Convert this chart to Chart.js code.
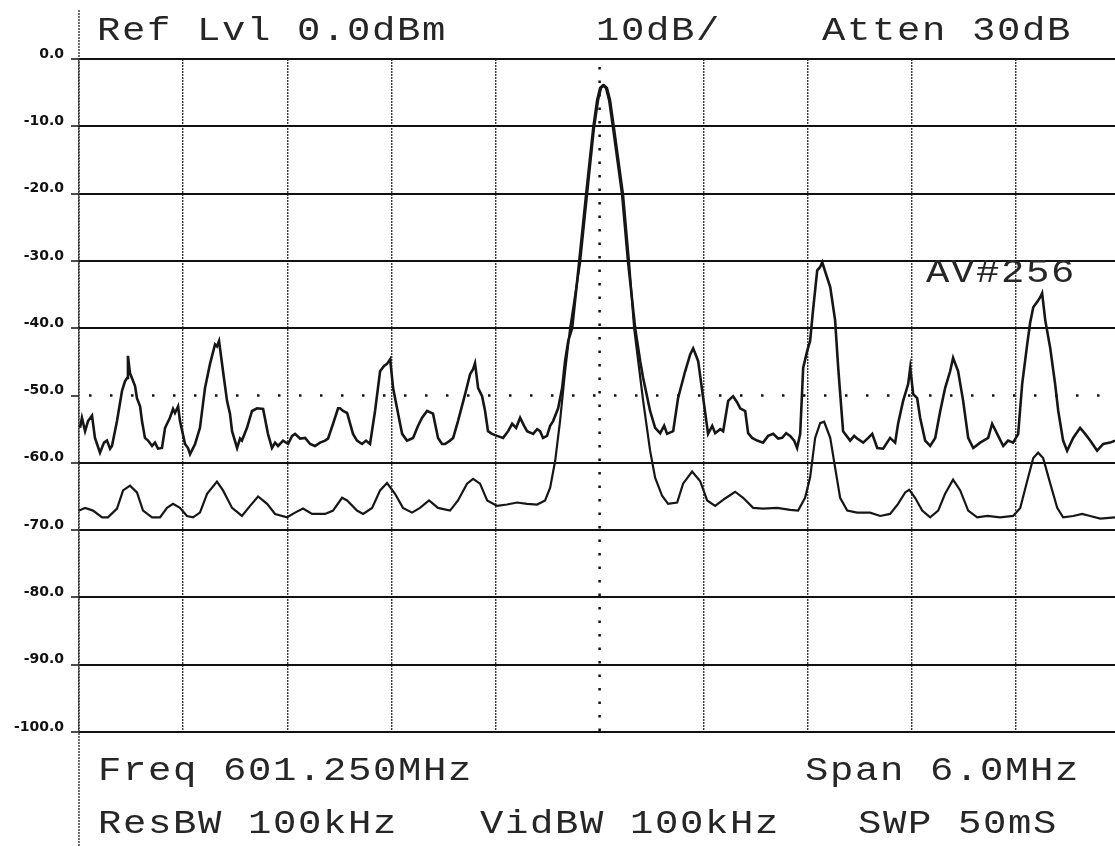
<!DOCTYPE html>
<html>
<head>
<meta charset="utf-8">
<style>
  html, body { margin: 0; background: #fff; }
</style>
<script src="https://cdn.jsdelivr.net/npm/chart.js@4.4.0/dist/chart.umd.min.js"></script>
</head>
<body>
<canvas id="plot" width="1115" height="846"></canvas>
<script>
// sweep settings
var startFreq = 598.25;   // MHz, left edge of the screen
var centerFreq = 601.25;  // MHz, marker line
var divFreq = 0.6;        // MHz per division
var visibleEnd = 604.22;  // MHz, last frequency on the printout
var displayLine = -50;    // dBm

// peak-hold trace (upper, noisy)
var peakFreq = [
  598.256, 598.267, 598.285, 598.302, 598.325, 598.342, 598.371, 598.394, 598.411, 598.429,
  598.440, 598.469, 598.498, 598.515, 598.527, 598.532, 598.544, 598.555, 598.573, 598.584,
  598.602, 598.613, 598.630, 598.648, 598.671, 598.688, 598.705, 598.728, 598.746, 598.774,
  598.792, 598.803, 598.821, 598.832, 598.861, 598.878, 598.890, 598.919, 598.947, 598.976,
  599.005, 599.034, 599.045, 599.057, 599.080, 599.103, 599.120, 599.132, 599.161, 599.178,
  599.189, 599.218, 599.247, 599.276, 599.311, 599.339, 599.362, 599.380, 599.397, 599.426,
  599.455, 599.478, 599.495, 599.524, 599.553, 599.582, 599.610, 599.639, 599.668, 599.685,
  599.714, 599.743, 599.754, 599.772, 599.795, 599.829, 599.852, 599.881, 599.904, 599.927,
  599.956, 599.985, 600.008, 600.025, 600.043, 600.060, 600.089, 600.112, 600.140, 600.175,
  600.204, 600.227, 600.256, 600.290, 600.319, 600.342, 600.359, 600.388, 600.406, 600.434,
  600.475, 600.504, 600.521, 600.532, 600.550, 600.573, 600.590, 600.607, 600.630, 600.659,
  600.694, 600.723, 600.746, 600.769, 600.792, 600.815, 600.832, 600.867, 600.890, 600.907,
  600.924, 600.947, 600.965, 600.982, 601.011, 601.034, 601.051, 601.069, 601.092, 601.132,
  601.172, 601.213, 601.236, 601.253, 601.270, 601.287, 601.305, 601.328, 601.380, 601.414,
  601.455, 601.484, 601.501, 601.541, 601.570, 601.599, 601.622, 601.639, 601.674, 601.702,
  601.743, 601.772, 601.789, 601.800, 601.818, 601.847, 601.875, 601.899, 601.916, 601.945,
  601.962, 601.991, 602.019, 602.042, 602.060, 602.089, 602.106, 602.129, 602.158, 602.192,
  602.221, 602.250, 602.279, 602.302, 602.325, 602.348, 602.371, 602.388, 602.406, 602.423,
  602.446, 602.463, 602.480, 602.504, 602.521, 602.533, 602.550, 602.579, 602.607, 602.625,
  602.653, 602.694, 602.717, 602.734, 602.769, 602.798, 602.821, 602.850, 602.884, 602.924,
  602.953, 602.970, 602.999, 603.028, 603.040, 603.057, 603.080, 603.097, 603.126, 603.155,
  603.184, 603.213, 603.241, 603.270, 603.287, 603.316, 603.345, 603.374, 603.403, 603.443,
  603.489, 603.512, 603.541, 603.576, 603.604, 603.633, 603.662, 603.685, 603.714, 603.731,
  603.749, 603.777, 603.789, 603.800, 603.818, 603.847, 603.875, 603.893, 603.921, 603.944,
  603.979, 604.019, 604.048, 604.077, 604.117, 604.152, 604.192, 604.221
];
var peakLevel = [
  -54.8, -53.3, -55.3, -53.8, -53.0, -56.3, -58.5, -57.0, -56.7, -57.9,
  -57.5, -53.8, -49.3, -47.9, -47.4, -44.1, -46.7, -47.4, -48.6, -50.4,
  -51.6, -53.8, -56.3, -56.7, -57.5, -57.0, -57.9, -57.8, -54.8, -53.3,
  -52.0, -52.6, -51.6, -53.8, -57.2, -57.8, -58.7, -57.2, -54.8, -48.9,
  -45.3, -42.4, -42.7, -41.9, -46.4, -50.8, -52.7, -55.3, -57.8, -56.4,
  -56.7, -54.8, -52.3, -51.9, -52.0, -55.7, -57.8, -57.0, -57.5, -56.7,
  -57.2, -56.0, -55.7, -56.4, -56.3, -57.2, -57.5, -57.0, -56.7, -56.4,
  -54.2, -51.9, -51.9, -52.3, -52.6, -55.7, -56.7, -57.2, -56.7, -57.2,
  -52.3, -46.4, -45.6, -45.3, -44.6, -48.9, -52.7, -55.7, -56.7, -56.3,
  -54.5, -53.3, -52.3, -52.7, -56.3, -57.2, -57.2, -56.7, -56.3, -53.8,
  -49.8, -46.8, -46.1, -45.2, -48.9, -50.1, -52.3, -55.3, -55.7, -56.0,
  -56.3, -55.3, -54.2, -54.8, -53.3, -54.5, -55.3, -55.7, -55.0, -55.3,
  -56.3, -56.0, -54.5, -53.8, -51.9, -48.9, -44.9, -41.9, -40.0, -30.2,
  -20.2, -10.3, -6.1, -4.3, -3.9, -4.3, -6.1, -10.3, -20.2, -30.2,
  -40.0, -44.9, -47.4, -52.3, -54.8, -55.6, -54.5, -55.7, -55.3, -50.4,
  -46.4, -43.9, -43.0, -43.7, -44.9, -50.4, -55.7, -54.5, -55.6, -55.0,
  -55.3, -50.8, -50.1, -51.0, -51.9, -52.3, -55.6, -56.3, -56.7, -57.0,
  -56.0, -55.7, -56.4, -56.3, -55.6, -56.0, -56.7, -57.8, -55.7, -45.9,
  -43.4, -41.9, -37.3, -31.4, -30.9, -30.2, -31.6, -33.9, -38.8, -45.9,
  -55.3, -56.7, -56.0, -56.4, -57.0, -56.3, -55.7, -57.8, -57.9, -56.3,
  -57.0, -54.2, -50.8, -48.3, -45.9, -49.8, -50.4, -53.3, -56.7, -57.5,
  -56.3, -52.3, -48.9, -46.4, -44.4, -46.4, -50.8, -56.3, -57.8, -57.0,
  -56.3, -54.2, -55.7, -57.5, -56.7, -57.0, -55.7, -48.3, -42.4, -39.2,
  -36.9, -35.9, -35.4, -34.8, -38.8, -43.0, -48.3, -52.3, -56.7, -58.2,
  -56.3, -54.8, -55.7, -56.7, -58.2, -57.2, -57.0, -56.7
];

// averaged trace (lower, smooth)
var avgFreq = [
  598.250, 598.285, 598.331, 598.383, 598.417, 598.469, 598.504, 598.544, 598.584, 598.619,
  598.671, 598.717, 598.757, 598.792, 598.832, 598.872, 598.907, 598.947, 598.988, 599.045,
  599.080, 599.132, 599.189, 599.236, 599.282, 599.334, 599.380, 599.449, 599.495, 599.541,
  599.593, 599.668, 599.714, 599.766, 599.795, 599.852, 599.887, 599.939, 599.985, 600.025,
  600.071, 600.117, 600.169, 600.215, 600.267, 600.319, 600.388, 600.434, 600.486, 600.521,
  600.561, 600.602, 600.659, 600.717, 600.774, 600.832, 600.890, 600.936, 600.965, 600.994,
  601.022, 601.051, 601.080, 601.138, 601.178, 601.218, 601.242, 601.259, 601.276, 601.293,
  601.311, 601.334, 601.386, 601.420, 601.449, 601.501, 601.541, 601.570, 601.610, 601.645,
  601.697, 601.731, 601.783, 601.829, 601.870, 601.916, 601.973, 602.031, 602.077, 602.135,
  602.192, 602.273, 602.348, 602.394, 602.434, 602.463, 602.492, 602.521, 602.544, 602.579,
  602.607, 602.636, 602.677, 602.734, 602.809, 602.867, 602.924, 602.970, 603.011, 603.034,
  603.068, 603.109, 603.155, 603.201, 603.241, 603.287, 603.328, 603.374, 603.426, 603.484,
  603.558, 603.633, 603.674, 603.714, 603.749, 603.777, 603.806, 603.847, 603.887, 603.921,
  603.979, 604.031, 604.077, 604.135, 604.221
];
var avgLevel = [
  -67.1, -66.7, -67.1, -68.1, -68.1, -66.8, -64.1, -63.4, -64.4, -67.1,
  -68.1, -68.1, -66.7, -66.1, -66.7, -67.9, -68.1, -67.4, -64.6, -62.8,
  -64.1, -66.7, -67.9, -66.4, -65.0, -66.1, -67.6, -68.1, -67.4, -66.8,
  -67.6, -67.6, -67.1, -65.2, -65.6, -67.1, -67.6, -66.7, -64.1, -63.0,
  -64.6, -66.7, -67.4, -66.7, -65.6, -66.7, -67.1, -65.6, -63.1, -62.4,
  -63.1, -65.6, -66.4, -66.2, -65.9, -66.1, -66.2, -65.6, -63.7, -59.7,
  -53.8, -46.4, -40.0, -30.2, -20.2, -10.3, -6.1, -4.3, -3.9, -4.3,
  -6.1, -10.3, -20.2, -30.2, -40.0, -50.8, -58.2, -62.2, -64.9, -66.1,
  -65.9, -63.1, -61.3, -62.7, -65.6, -66.4, -65.3, -64.3, -65.2, -66.7,
  -66.8, -66.7, -67.0, -67.1, -65.2, -62.2, -56.3, -54.1, -53.9, -56.3,
  -60.7, -65.2, -67.1, -67.4, -67.4, -67.9, -67.6, -66.1, -64.4, -64.0,
  -65.2, -67.1, -68.1, -67.1, -64.6, -62.5, -64.1, -67.1, -68.1, -67.9,
  -68.1, -67.9, -66.7, -62.7, -59.3, -58.5, -59.3, -63.1, -66.7, -68.1,
  -67.9, -67.6, -67.9, -68.3, -68.1
];

// grid positions along the sweep, one per division
var freqGrid = [];
for (var k = 0; k < 10; k++) {
  freqGrid.push(+(startFreq + k * divFreq).toFixed(3));
}

function toPoints(xs, ys) {
  var pts = [];
  for (var i = 0; i < xs.length; i++) pts.push({ x: xs[i], y: ys[i] });
  return pts;
}

var ink = '#161616';

// annotation text printed around the graticule
var annotations = [
  { text: 'Ref Lvl 0.0dBm', x: 97, y: 40 },
  { text: '10dB/', x: 596, y: 40 },
  { text: 'Atten 30dB', x: 822, y: 40 },
  { text: 'AV#256', x: 926, y: 282 },
  { text: 'Freq 601.250MHz', x: 98, y: 780 },
  { text: 'Span 6.0MHz', x: 805, y: 780 },
  { text: 'ResBW 100kHz', x: 98, y: 833 },
  { text: 'VidBW 100kHz', x: 480, y: 833 },
  { text: 'SWP 50mS', x: 858, y: 833 }
];

var screenDecor = {
  id: 'screenDecor',
  beforeDatasetsDraw: function (chart) {
    var c = chart.ctx, area = chart.chartArea;
    var xs = chart.scales.x, ys = chart.scales.y;
    c.save();
    // left frame line runs the full height of the sheet
    c.strokeStyle = '#333';
    c.lineWidth = 1.4;
    c.setLineDash([2, 1]);
    c.beginPath();
    c.moveTo(area.left, 10);
    c.lineTo(area.left, chart.height);
    c.stroke();
    // display line
    var yd = ys.getPixelForValue(displayLine);
    c.strokeStyle = '#111';
    c.lineWidth = 2.5;
    c.setLineDash([2.5, 18.5]);
    c.beginPath();
    c.moveTo(area.left + 10, yd);
    c.lineTo(area.right, yd);
    c.stroke();
    // center frequency marker
    var xc = xs.getPixelForValue(centerFreq);
    c.setLineDash([2.5, 11]);
    c.beginPath();
    c.moveTo(xc, area.top + 8);
    c.lineTo(xc, area.bottom);
    c.stroke();
    c.restore();
  },
  afterDraw: function (chart) {
    var c = chart.ctx;
    c.save();
    c.fillStyle = '#262626';
    c.font = '33px "Liberation Mono"';
    c.textBaseline = 'alphabetic';
    // plotter characters: fixed 25px pitch, glyphs a little wider than the font
    annotations.forEach(function (a) {
      for (var i = 0; i < a.text.length; i++) {
        c.save();
        c.translate(a.x + i * 25, a.y);
        c.scale(1.18, 1);
        c.fillText(a.text[i], 0, 0);
        c.restore();
      }
    });
    c.restore();
  }
};

new Chart(document.getElementById('plot'), {
  type: 'line',
  data: {
    datasets: [
      {
        label: 'Average',
        data: toPoints(avgFreq, avgLevel),
        borderColor: ink,
        borderWidth: 2.2,
        pointRadius: 0,
        tension: 0
      },
      {
        label: 'Peak',
        data: toPoints(peakFreq, peakLevel),
        borderColor: ink,
        borderWidth: 2.6,
        pointRadius: 0,
        tension: 0
      }
    ]
  },
  plugins: [screenDecor],
  options: {
    responsive: false,
    animation: false,
    events: [],
    layout: { padding: { top: 59, bottom: 114, left: 0, right: 0 } },
    plugins: {
      legend: { display: false },
      tooltip: { enabled: false }
    },
    scales: {
      x: {
        type: 'linear',
        min: startFreq,
        max: visibleEnd,
        afterBuildTicks: function (scale) {
          scale.ticks = freqGrid.map(function (v) { return { value: v }; });
        },
        afterFit: function (scale) { scale.height = 0; },
        ticks: { display: false },
        grid: {
          drawTicks: false,
          lineWidth: 1.4,
          color: function (ctx) {
            return ctx.tick && Math.abs(ctx.tick.value - centerFreq) < 1e-6 ? 'rgba(0,0,0,0)' : '#3a3a3a';
          }
        },
        border: { display: false, dash: [2, 1] }
      },
      y: {
        min: -100,
        max: 0,
        afterFit: function (scale) { scale.width = 79; },
        ticks: {
          stepSize: 10,
          padding: 7,
          labelOffset: -5,
          color: '#111',
          font: { family: 'DejaVu Sans', weight: 'bold', size: 14 },
          callback: function (v) { return v.toFixed(1); }
        },
        grid: {
          tickLength: 8,
          tickColor: '#111',
          tickWidth: 1.5,
          lineWidth: 2,
          color: function (ctx) {
            return ctx.tick && ctx.tick.value === displayLine ? 'rgba(0,0,0,0)' : '#111';
          }
        },
        border: { display: false }
      }
    }
  }
});
</script>
</body>
</html>
